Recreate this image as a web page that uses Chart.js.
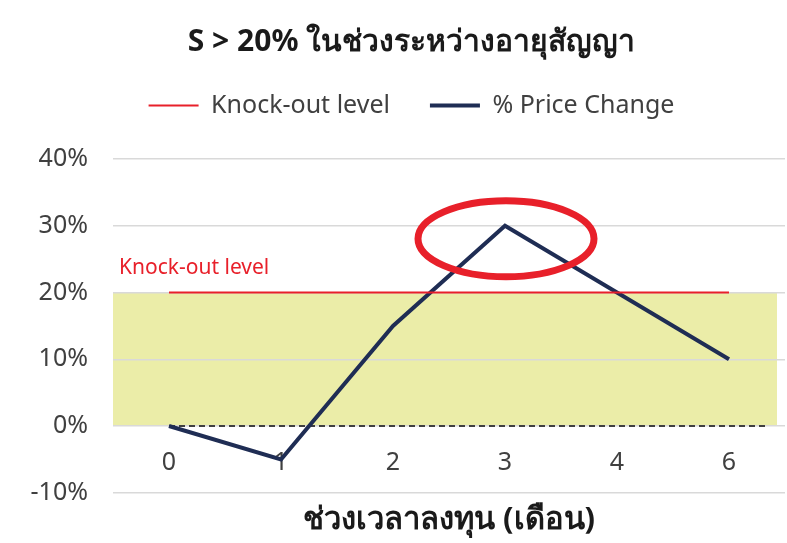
<!DOCTYPE html>
<html>
<head>
<meta charset="utf-8">
<script src="https://cdn.jsdelivr.net/npm/chart.js@4"></script>
<style>
  html, body { margin: 0; padding: 0; background: #fff; }
  #wrap { width: 787px; height: 543px; }
</style>
</head>
<body>
<div id="wrap"><canvas id="chartArea"></canvas></div>
<script>
// data
const months = ['0', '1', '2', '3', '4', '6'];
const priceChange = [0, -5, 15, 30, 20, 10];
const knockOut = [20, 20, 20, 20, 20, 20];
const yTicks = [-10, 0, 10, 20, 30, 40];
const zoneRange = [0, 20];

const RED = '#e8202a';
const NAVY = '#1f2d54';
const TXT = '#404040';
const FONT = "'Noto Sans', 'Open Sans', sans-serif";

// yellow zone under the grid, dashed zero line, label and ellipse
const extras = {
    id: 'extras',
    beforeInit(chart) {
        // extra room under the legend
        const fit = chart.legend.fit;
        chart.legend.fit = function () {
            fit.call(this);
            this.height += 31;
        };
    },
    afterLayout(chart) {
        // let the y labels run into the left padding without being clipped
        chart.scales.y.left = 0;
    },
    beforeDraw(chart) {
        const { ctx, chartArea, scales } = chart;
        const y = scales.y;
        ctx.save();
        ctx.fillStyle = '#ebeda8';
        const top = y.getPixelForValue(zoneRange[1]);
        const bot = y.getPixelForValue(zoneRange[0]);
        ctx.fillRect(chartArea.left, top, chartArea.right - 8 - chartArea.left, bot - top);
        ctx.restore();
    },
    beforeDatasetsDraw(chart) {
        const { ctx, chartArea, scales } = chart;
        const x = scales.x, y = scales.y;
        ctx.save();
        ctx.strokeStyle = TXT;
        ctx.lineWidth = 2;
        ctx.setLineDash([6, 4]);
        const y0 = y.getPixelForValue(0);
        ctx.beginPath();
        ctx.moveTo(x.getPixelForValue(0), y0);
        ctx.lineTo(chartArea.right - 17, y0);
        ctx.stroke();
        ctx.setLineDash([]);
        ctx.fillStyle = RED;
        ctx.font = '21px ' + FONT;
        ctx.textBaseline = 'middle';
        ctx.fillText('Knock-out level', chartArea.left + 6, y.getPixelForValue(20) - 25);
        ctx.restore();
    },
    afterDatasetsDraw(chart) {
        const { ctx, scales } = chart;
        const px = scales.x.getPixelForValue(3);
        const py = scales.y.getPixelForValue(30);
        ctx.save();
        ctx.strokeStyle = RED;
        ctx.lineWidth = 7;
        ctx.beginPath();
        ctx.ellipse(px + 1, py + 13, 88, 38, 0, 0, Math.PI * 2);
        ctx.stroke();
        ctx.restore();
    }
};

const data = {
    labels: months,
    datasets: [
        {
            label: 'Knock-out level',
            data: knockOut,
            borderColor: RED,
            backgroundColor: RED,
            borderWidth: 2,
            pointRadius: 0,
            pointStyle: 'line',
        },
        {
            label: '% Price Change',
            data: priceChange,
            borderColor: NAVY,
            backgroundColor: NAVY,
            borderWidth: 4,
            pointRadius: 0,
            pointStyle: 'line',
        }
    ]
};

const config = {
    type: 'line',
    data: data,
    options: {
        responsive: true,
        maintainAspectRatio: false,
        animation: false,
        layout: { padding: { left: 38, right: 2, top: 24, bottom: 4 } },
        plugins: {
            title: {
                display: true,
                text: 'S > 20% ในช่วงระหว่างอายุสัญญา',
                color: '#1a1a1a',
                font: { family: FONT, size: 30, weight: 'bold' },
                padding: { top: 0, bottom: -7 }
            },
            subtitle: {
                display: true,
                position: 'bottom',
                fullSize: false,
                text: 'ช่วงเวลาลงทุน (เดือน)',
                color: '#1a1a1a',
                font: { family: FONT, size: 31, weight: 'bold' },
                padding: { top: 9, bottom: 0 }
            },
            legend: {
                labels: {
                    usePointStyle: true,
                    pointStyleWidth: 50,
                    color: TXT,
                    font: { family: FONT, size: 25 },
                    padding: 40
                }
            },
            tooltip: { enabled: false }
        },
        scales: {
            x: {
                offset: true,
                position: { y: 0 },
                grid: { display: false },
                border: { display: false },
                ticks: { color: TXT, font: { family: FONT, size: 25 }, padding: 14 },
                afterFit(scale) { scale.height = 6; }
            },
            y: {
                min: -10,
                max: 40,
                afterBuildTicks(scale) { scale.ticks = yTicks.map(v => ({ value: v })); },
                grid: { color: '#d9d9d9', lineWidth: 1.5, drawTicks: false },
                border: { display: false },
                ticks: {
                    color: TXT,
                    font: { family: FONT, size: 25 },
                    padding: 25,
                    callback: v => v + '%'
                },
                afterFit(scale) { scale.width = 75; }
            }
        }
    },
    plugins: [extras]
};

new Chart(document.getElementById('chartArea'), config);
</script>
</body>
</html>
